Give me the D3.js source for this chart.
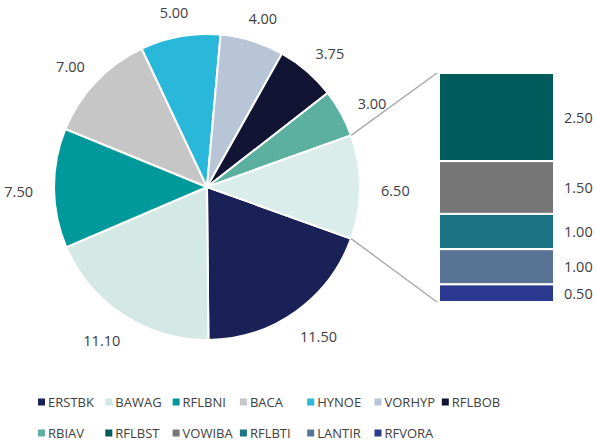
<!DOCTYPE html>
<html>
<head>
<meta charset="utf-8">
<script src="https://cdn.jsdelivr.net/npm/d3@7"></script>
<style>
  body { margin: 0; background: #fff; }
  text { font-family: "Open Sans", "Liberation Sans", sans-serif; fill: #404040; }
</style>
</head>
<body>
<div id="vis"></div>
<script>
// main pie
var pieNames = ["ERSTBK", "BAWAG", "RFLBNI", "BACA", "HYNOE", "VORHYP", "RFLBOB", "RBIAV"];
var pieValues = [11.50, 11.10, 7.50, 7.00, 5.00, 4.00, 3.75, 3.00];
// the bar that splits out "other"
var barNames = ["RFLBST", "VOWIBA", "RFLBTI", "LANTIR", "RFVORA"];
var barValues = [2.50, 1.50, 1.00, 1.00, 0.50];

var pieColors = ["#1a2156", "#d4e9e5", "#00999b", "#c6c6c6", "#29b8d9", "#b8c5d6", "#121433", "#5cb0a0"];
var otherColor = "#dbedea";
var barColors = ["#005b5c", "#767676", "#1b7383", "#587393", "#2b3990"];

var width = 596, height = 441;
var cx = 207, cy = 187, radius = 153;

var svg = d3.select("#vis").append("svg")
    .attr("width", width)
    .attr("height", height);

var otherTotal = d3.sum(barValues);
var slices = pieNames.map(function(n, i) {
    return {name: n, value: pieValues[i], color: pieColors[i]};
});
slices.push({name: "Other", value: otherTotal, color: otherColor});

var total = d3.sum(slices, function(d) { return d.value; });
// "other" slice sits centred at 3 o'clock
var start = Math.PI / 2 + (otherTotal / total) * Math.PI;

var pie = d3.pie()
    .sort(null)
    .value(function(d) { return d.value; })
    .startAngle(start)
    .endAngle(start + 2 * Math.PI);

var arcs = pie(slices);
var arc = d3.arc().innerRadius(0).outerRadius(radius);

var g = svg.append("g").attr("transform", "translate(" + cx + "," + cy + ")");

g.selectAll("path")
    .data(arcs)
    .enter().append("path")
    .attr("d", arc)
    .attr("fill", function(d) { return d.data.color; })
    .attr("stroke", "#fff")
    .attr("stroke-width", 2);

// value labels, pushed out by half the label box
var labelR = 172;
g.selectAll("text.val")
    .data(arcs)
    .enter().append("text")
    .attr("class", "val")
    .attr("font-size", "14.5px")
    .attr("text-anchor", "middle")
    .attr("dominant-baseline", "central")
    .text(function(d) { return d.data.value.toFixed(2); })
    .each(function(d) {
        var a = (d.startAngle + d.endAngle) / 2;
        var w = this.getComputedTextLength();
        var x = labelR * Math.sin(a) + (w / 2 + 2) * Math.sin(a);
        var y = -labelR * Math.cos(a) - 8 * Math.cos(a) + 3;
        d3.select(this).attr("x", x).attr("y", y);
    });

// stacked bar for the split-out part
var barX0 = 439, barX1 = 554;
var y = d3.scaleLinear().domain([0, otherTotal]).range([73, 302]);

var stack = [];
var acc = 0;
barValues.forEach(function(v, i) {
    stack.push({name: barNames[i], value: v, y0: acc, y1: acc + v, color: barColors[i]});
    acc += v;
});

svg.selectAll("rect.seg")
    .data(stack)
    .enter().append("rect")
    .attr("class", "seg")
    .attr("x", barX0)
    .attr("width", barX1 - barX0)
    .attr("y", function(d) { return y(d.y0); })
    .attr("height", function(d) { return y(d.y1) - y(d.y0); })
    .attr("fill", function(d) { return d.color; })
    .attr("stroke", "#fff")
    .attr("stroke-width", 2);

svg.selectAll("text.barval")
    .data(stack)
    .enter().append("text")
    .attr("class", "barval")
    .attr("font-size", "14.5px")
    .attr("x", 564)
    .attr("y", function(d) { return (y(d.y0) + y(d.y1)) / 2; })
    .attr("dominant-baseline", "central")
    .text(function(d) { return d.value.toFixed(2); });

// connector lines from the other slice to the bar
var other = arcs[arcs.length - 1];
var pts = [
    [other.startAngle, y(0)],
    [other.endAngle, y(otherTotal)]
];
pts.forEach(function(p) {
    svg.append("line")
        .attr("x1", cx + radius * Math.sin(p[0]))
        .attr("y1", cy - radius * Math.cos(p[0]))
        .attr("x2", barX0 - 2)
        .attr("y2", p[1])
        .attr("stroke", "#a6a6a6")
        .attr("stroke-width", 1.3);
});

// legend
var legendNames = pieNames.concat(barNames);
var legendColors = pieColors.concat(barColors);
var colStep = 67.3, perRow = 7;

var legend = svg.selectAll("g.leg")
    .data(legendNames)
    .enter().append("g")
    .attr("class", "leg")
    .attr("transform", function(d, i) {
        var col = i % perRow, row = Math.floor(i / perRow);
        return "translate(" + (38 + col * colStep) + "," + (402 + row * 31) + ")";
    });

legend.append("rect")
    .attr("x", 0)
    .attr("y", -3.5)
    .attr("width", 7)
    .attr("height", 7)
    .attr("fill", function(d, i) { return legendColors[i]; });

legend.append("text")
    .attr("x", 10)
    .attr("y", 0)
    .attr("font-size", "13px")
    .attr("dominant-baseline", "central")
    .text(function(d) { return d; });
</script>
</body>
</html>
